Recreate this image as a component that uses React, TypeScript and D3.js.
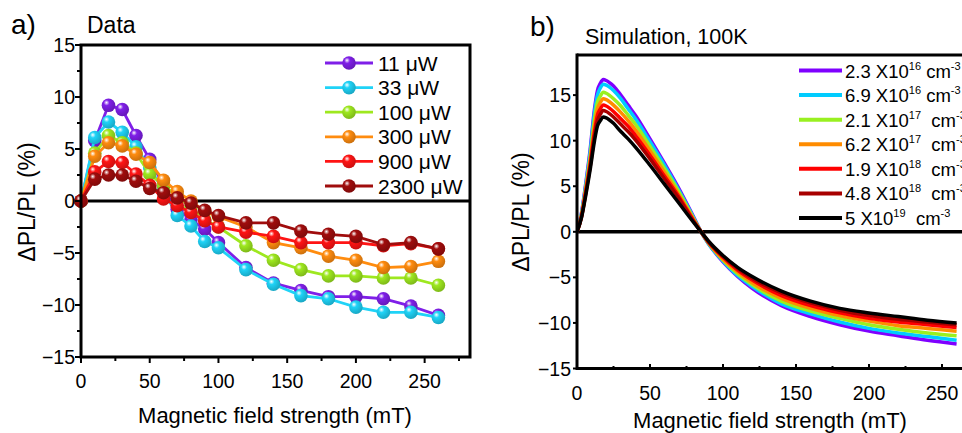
import React from "react";
import * as d3 from "d3";

// ---------- Panel a data ----------
const fieldA = [0, 10, 20, 30, 40, 50, 60, 70, 80, 90, 100, 120, 140, 160, 180, 200, 220, 240, 260];
const powerLabels = ["11 μW", "33 μW", "100 μW", "300 μW", "900 μW", "2300 μW"];
const powerColors = ["#7f1fe8", "#1fd3f7", "#9ee81f", "#ff8c0f", "#ff1414", "#a00d0d"];
const p11 = [0, 5.8, 9.2, 8.8, 6.3, 4.0, 1.5, -0.8, -1.8, -2.7, -4.0, -6.4, -7.9, -8.6, -9.2, -9.2, -9.4, -10.1, -11.0];
const p33 = [0, 6.1, 7.6, 6.6, 5.2, 3.2, 1.0, -1.4, -2.4, -3.9, -4.5, -6.6, -8.0, -9.1, -9.4, -10.2, -10.7, -10.7, -11.2];
const p100 = [0, 4.6, 6.3, 5.6, 4.6, 2.6, 1.5, 0.5, -0.6, -1.8, -2.5, -4.3, -5.7, -6.6, -7.2, -7.2, -7.4, -7.4, -8.1];
const p300 = [0, 4.3, 5.6, 5.3, 4.5, 3.7, 2.0, 0.9, 0.0, -1.0, -1.5, -2.5, -4.0, -4.5, -5.3, -5.7, -6.4, -6.3, -5.8];
const p900 = [0, 2.8, 3.8, 3.7, 2.6, 1.5, 0.2, -0.45, -1.1, -1.9, -2.5, -3.0, -3.4, -4.0, -4.0, -4.0, -4.3, -4.1, -4.6];
const p2300 = [0, 2.1, 2.5, 2.5, 1.9, 1.2, 0.8, 0.3, -0.2, -0.9, -1.4, -2.1, -2.1, -2.9, -3.2, -3.4, -4.2, -4.0, -4.6];
const seriesA = [p11, p33, p100, p300, p900, p2300];

// ---------- Panel b data ----------
const fieldB = [0, 3, 6, 9, 12, 14, 16, 18, 20, 22, 25, 30, 35, 40, 50, 60, 70, 80, 85, 90, 100, 110, 120, 140, 160, 180, 200, 220, 240, 260];
const densMant = ["2.3", "6.9", "2.1", "6.2", "1.9", "4.8", "5"];
const densExp = ["16", "16", "17", "17", "18", "18", "19"];
const densColors = ["#7f00ff", "#00ccff", "#99f020", "#ff8c00", "#ff0000", "#a80000", "#000000"];
const s1 = [0, 2.0, 5.3, 9.0, 13.5, 15.5, 16.3, 16.7, 16.6, 16.4, 16.0, 15.0, 13.9, 12.8, 10.2, 7.5, 4.7, 1.6, 0, -1.3, -3.3, -4.9, -6.2, -8.1, -9.3, -10.2, -10.9, -11.4, -11.9, -12.3];
const s2 = [0, 1.9, 5.1, 8.7, 13.1, 15.0, 15.8, 16.2, 16.1, 15.9, 15.5, 14.6, 13.5, 12.4, 9.9, 7.3, 4.5, 1.5, 0, -1.3, -3.2, -4.8, -6.0, -7.9, -9.0, -9.9, -10.6, -11.1, -11.5, -11.9];
const s3 = [0, 1.8, 4.8, 8.2, 12.3, 14.2, 14.9, 15.3, 15.2, 15.0, 14.6, 13.8, 12.8, 11.8, 9.4, 6.9, 4.3, 1.4, 0, -1.2, -3.1, -4.6, -5.8, -7.6, -8.7, -9.5, -10.2, -10.7, -11.1, -11.4];
const s4 = [0, 1.7, 4.6, 7.8, 11.7, 13.5, 14.2, 14.6, 14.5, 14.3, 13.9, 13.1, 12.2, 11.2, 8.9, 6.5, 4.0, 1.3, 0, -1.2, -3.0, -4.4, -5.6, -7.3, -8.4, -9.2, -9.8, -10.3, -10.6, -10.9];
const s5 = [0, 1.6, 4.4, 7.4, 11.0, 12.8, 13.5, 13.9, 13.8, 13.6, 13.2, 12.4, 11.6, 10.6, 8.4, 6.1, 3.8, 1.2, 0, -1.1, -2.8, -4.2, -5.3, -7.0, -8.1, -8.9, -9.5, -9.9, -10.2, -10.5];
const s6 = [0, 1.55, 4.2, 7.1, 10.5, 12.2, 12.9, 13.3, 13.2, 13.0, 12.6, 11.8, 11.0, 10.1, 8.0, 5.8, 3.6, 1.1, 0, -1.1, -2.7, -4.0, -5.1, -6.7, -7.8, -8.6, -9.2, -9.6, -9.9, -10.2];
const s7 = [0, 1.5, 4.0, 6.8, 10.0, 11.6, 12.2, 12.6, 12.5, 12.3, 11.9, 11.0, 10.2, 9.3, 7.3, 5.2, 3.1, 1.0, 0, -1.0, -2.6, -3.9, -4.9, -6.5, -7.6, -8.4, -8.9, -9.3, -9.7, -10.0];
const seriesB = [s1, s2, s3, s4, s5, s6, s7];

const xTicks = [0, 50, 100, 150, 200, 250];
const xMinor = [25, 75, 125, 175, 225, 275];
const yTicks = [-15, -10, -5, 0, 5, 10, 15];
const yMinor = [-12.5, -7.5, -2.5, 2.5, 7.5, 12.5, 17.5];

const FONT = "Liberation Sans, Arial, sans-serif";
const fmt = (v: number) => (v < 0 ? "\u2212" + Math.abs(v) : String(v));

export default function App() {
  const xa = d3.scaleLinear().domain([0, 283]).range([81, 470]);
  const ya = d3.scaleLinear().domain([-15, 15]).range([357, 45]);
  const xb = d3.scaleLinear().domain([0, 260]).range([577, 956.6]);
  const yb = d3.scaleLinear().domain([-15, 19.4]).range([368.5, 55]);

  const lineA = (vals: number[]) =>
    d3.line<number>().x((_, i) => xa(fieldA[i])).y((v) => ya(v))(vals) || "";
  const lineB = (vals: number[]) =>
    d3.line<number>().x((_, i) => xb(fieldB[i])).y((v) => yb(v)).curve(d3.curveMonotoneX)(vals) || "";

  const legA = d3.scaleLinear().domain([0, 5]).range([63, 186]);
  const legB = d3.scaleLinear().domain([0, 6]).range([70.5, 218]);
  const TICK = 19.5;

  return (
    <div style={{ position: "absolute", left: 0, top: 0 }}>
      <svg width={962} height={433} style={{ display: "block", fontFamily: FONT }}>
        <defs>
          {powerColors.map((c, i) => (
            <radialGradient key={i} id={`g${i}`} cx="0.38" cy="0.35" r="0.7" fx="0.35" fy="0.3">
              <stop offset="0" stopColor="#ffffff" />
              <stop offset="0.3" stopColor={c} />
              <stop offset="1" stopColor={d3.color(c)!.darker(0.7).toString()} />
            </radialGradient>
          ))}
          <clipPath id="clipB">
            <rect x={577} y={40} width={385} height={340} />
          </clipPath>
        </defs>
        <rect x={0} y={0} width={962} height={433} fill="#fff" />

        {/* ---------- Panel a ---------- */}
        <text x={11} y={34} fontSize={28} fill="#000">a)</text>
        <text x={87} y={33} fontSize={23} fill="#000">Data</text>

        <line x1={xa(0)} x2={470} y1={ya(0)} y2={ya(0)} stroke="#000" strokeWidth={3} />

        {seriesA.map((s, k) => (
          <g key={k}>
            <path d={lineA(s)} fill="none" stroke={powerColors[k]} strokeWidth={2.8} />
            {s.map((v, i) => (
              <circle key={i} cx={xa(fieldA[i])} cy={ya(v)} r={6.8} fill={`url(#g${k})`} />
            ))}
          </g>
        ))}

        {/* legend a */}
        <rect x={305} y={49} width={163} height={150} fill="#fff" />
        {powerLabels.map((lab, i) => (
          <g key={i}>
            <line x1={325} x2={373} y1={legA(i)} y2={legA(i)} stroke={powerColors[i]} strokeWidth={2.8} />
            <circle cx={349} cy={legA(i)} r={6.8} fill={`url(#g${i})`} />
            <text x={378} y={legA(i) + 7.5} fontSize={21} fill="#000">{lab}</text>
          </g>
        ))}

        {/* frame a */}
        <rect x={81} y={45} width={389} height={312} fill="none" stroke="#000" strokeWidth={3} />
        {xTicks.map((t) => (
          <g key={t}>
            <line x1={xa(t)} x2={xa(t)} y1={357} y2={363} stroke="#000" strokeWidth={2} />
            <text x={xa(t)} y={388} fontSize={TICK} textAnchor="middle">{fmt(t)}</text>
          </g>
        ))}
        {xMinor.map((t) => (
          <line key={t} x1={xa(t)} x2={xa(t)} y1={357} y2={361} stroke="#000" strokeWidth={2} />
        ))}
        {yTicks.map((t) => (
          <g key={t}>
            <line x1={75} x2={81} y1={ya(t)} y2={ya(t)} stroke="#000" strokeWidth={2} />
            <text x={75} y={ya(t) + 7} fontSize={TICK} textAnchor="end">{fmt(t)}</text>
          </g>
        ))}
        {yMinor.filter((t) => t < 15).map((t) => (
          <line key={t} x1={77} x2={81} y1={ya(t)} y2={ya(t)} stroke="#000" strokeWidth={2} />
        ))}
        <text transform={`translate(35,202) rotate(-90)`} fontSize={23} textAnchor="middle">ΔPL/PL (%)</text>
        <text x={275} y={423} fontSize={22} textAnchor="middle">Magnetic field strength (mT)</text>

        {/* ---------- Panel b ---------- */}
        <text x={530} y={36} fontSize={28} fill="#000">b)</text>
        <text x={585} y={44} fontSize={21.5} fill="#000">Simulation, 100K</text>

        <line x1={577} x2={962} y1={yb(0)} y2={yb(0)} stroke="#000" strokeWidth={3.5} />
        <g clipPath="url(#clipB)">
          {seriesB.map((s, k) => (
            <path key={k} d={lineB(s)} fill="none" stroke={densColors[k]} strokeWidth={3.5} />
          ))}
        </g>

        {/* legend b */}
        {densMant.map((m, i) => (
          <g key={i}>
            <line x1={799} x2={842} y1={legB(i)} y2={legB(i)} stroke={densColors[i]} strokeWidth={4} />
            <text x={845} y={legB(i) + 7} fontSize={18.5} fill="#000" xmlSpace="preserve">
              <tspan>{`${m} X10`}</tspan>
              <tspan dy={-8} fontSize={11}>{densExp[i]}</tspan>
              <tspan dy={8}>{i >= 2 ? "  cm" : " cm"}</tspan>
              <tspan dy={-8} fontSize={11}>-3</tspan>
            </text>
          </g>
        ))}

        {/* frame b */}
        <line x1={577} x2={962} y1={55} y2={55} stroke="#000" strokeWidth={3} />
        <line x1={577} x2={962} y1={368.5} y2={368.5} stroke="#000" strokeWidth={3} />
        <line x1={577} x2={577} y1={53.5} y2={370} stroke="#000" strokeWidth={3} />
        {xTicks.map((t) => (
          <g key={t}>
            <line x1={xb(t)} x2={xb(t)} y1={368.5} y2={364} stroke="#000" strokeWidth={2} />
            <text x={xb(t)} y={400} fontSize={TICK} textAnchor="middle">{fmt(t)}</text>
          </g>
        ))}
        {xMinor.filter((t) => t < 263).map((t) => (
          <line key={t} x1={xb(t)} x2={xb(t)} y1={368.5} y2={366} stroke="#000" strokeWidth={2} />
        ))}
        {yTicks.map((t) => (
          <g key={t}>
            <line x1={573} x2={577} y1={yb(t)} y2={yb(t)} stroke="#000" strokeWidth={2} />
            <text x={571} y={yb(t) + 7} fontSize={TICK} textAnchor="end">{fmt(t)}</text>
          </g>
        ))}
        <text transform={`translate(529,212) rotate(-90)`} fontSize={23} textAnchor="middle">ΔPL/PL (%)</text>
        <text x={770} y={428} fontSize={22} textAnchor="middle">Magnetic field strength (mT)</text>
      </svg>
    </div>
  );
}
